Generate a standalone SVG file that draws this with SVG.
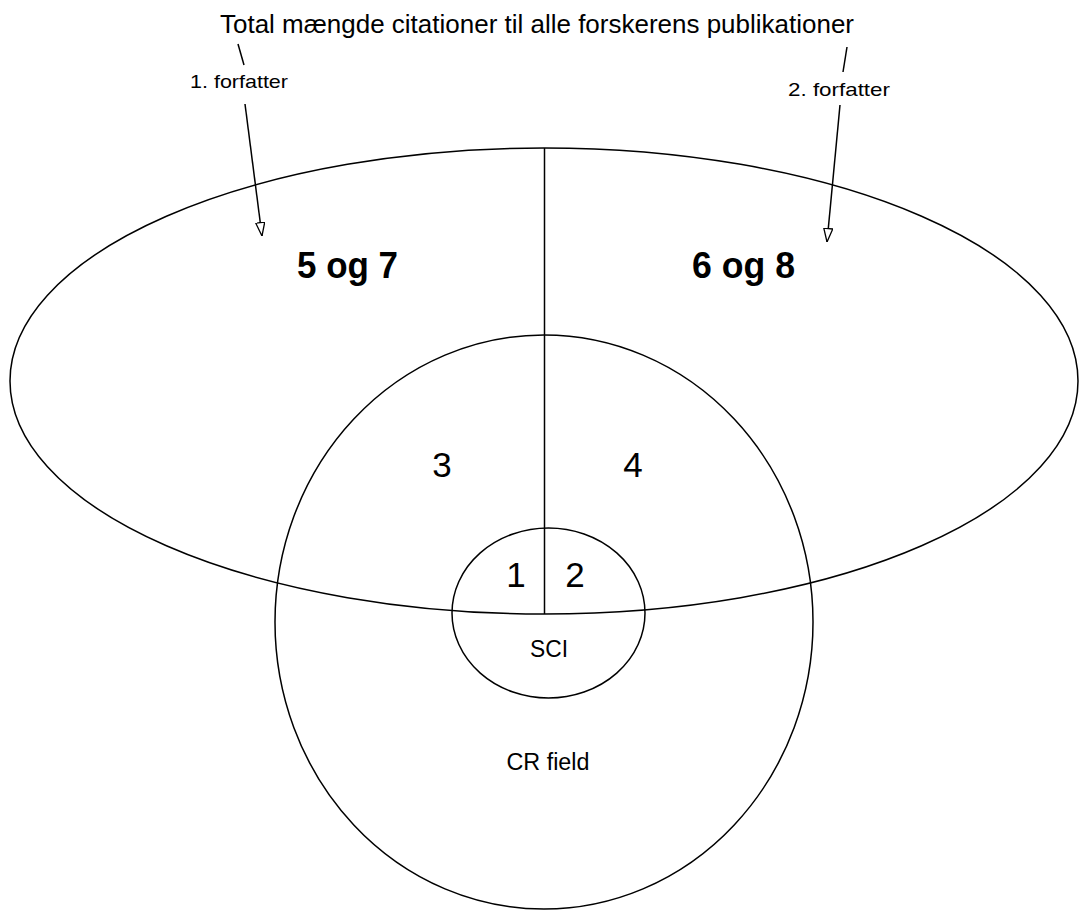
<svg xmlns="http://www.w3.org/2000/svg" width="1079" height="911" viewBox="0 0 1079 911">
<style>
.ln{fill:none;stroke:#000;stroke-width:1.5}
.t{font-family:"Liberation Sans",Arial,sans-serif;fill:#000}
.big{font-size:36px;font-weight:bold}
.num{font-size:35px}
.sm{font-size:19px}
.mid{font-size:23px}
</style>
<defs>
<marker id="ah" viewBox="0 0 14 10" refX="14" refY="5" markerWidth="14" markerHeight="10" markerUnits="userSpaceOnUse" orient="auto">
<path d="M0.5,0.5 L14,5 L0.5,9.5 Z" fill="#fff" stroke="#000" stroke-width="1.3"/>
</marker>
</defs>
<rect width="1079" height="911" fill="#fff"/>
<g id="outer-ellipse">
<ellipse class="ln" cx="544" cy="381" rx="534" ry="233"/>
<text class="t big" x="297" y="278" textLength="101" lengthAdjust="spacingAndGlyphs">5 og 7</text>
<text class="t big" x="692" y="278" textLength="103" lengthAdjust="spacingAndGlyphs">6 og 8</text>
</g>
<g id="cr-field">
<ellipse class="ln" cx="544" cy="622" rx="269" ry="287"/>
<text class="t num" x="442" y="477" text-anchor="middle">3</text>
<text class="t num" x="633" y="477" text-anchor="middle">4</text>
<text class="t mid" x="548" y="770" text-anchor="middle" textLength="83" lengthAdjust="spacingAndGlyphs">CR field</text>
</g>
<g id="sci">
<ellipse class="ln" cx="548.5" cy="613" rx="96.5" ry="85"/>
<text class="t num" x="516" y="587" text-anchor="middle">1</text>
<text class="t num" x="575" y="587" text-anchor="middle">2</text>
<text class="t mid" x="549" y="657" text-anchor="middle" font-size="24" textLength="38" lengthAdjust="spacingAndGlyphs">SCI</text>
</g>
<g id="title">
<text class="t" x="220" y="33" font-size="25" textLength="634" lengthAdjust="spacingAndGlyphs">Total mængde citationer til alle forskerens publikationer</text>
</g>
<g id="label-1">
<text class="t sm" x="190" y="88" textLength="98" lengthAdjust="spacingAndGlyphs">1. forfatter</text>
</g>
<g id="label-2">
<text class="t sm" x="788" y="96" textLength="102" lengthAdjust="spacingAndGlyphs">2. forfatter</text>
</g>
<g id="connectors">
<line class="ln" x1="544.5" y1="148" x2="544.5" y2="614"/>
<line class="ln" x1="238" y1="44" x2="244" y2="65"/>
<line class="ln" x1="847" y1="47" x2="843" y2="72"/>
<line class="ln" x1="245" y1="104" x2="262" y2="236" marker-end="url(#ah)"/>
<line class="ln" x1="840" y1="105" x2="827" y2="242" marker-end="url(#ah)"/>
</g>
</svg>
